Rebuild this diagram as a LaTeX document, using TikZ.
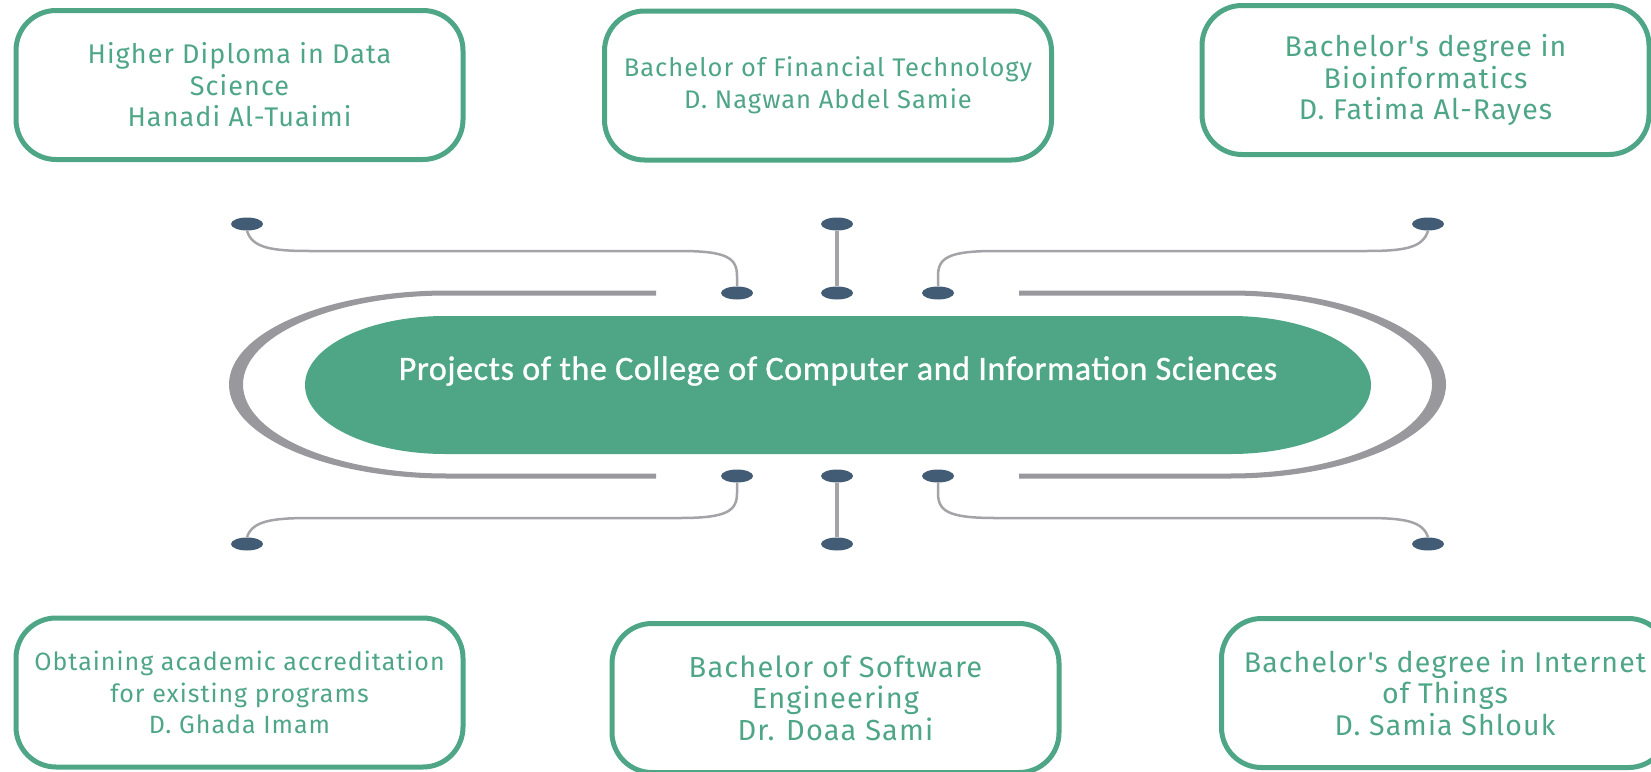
\documentclass[tikz,border=0pt]{standalone}
\usepackage{fontspec}
\newfontfamily\progfont{Fira Sans}[LetterSpace=4]
\newfontfamily\hubfont{Carlito}[LetterSpace=1.8,FakeBold=1]
\usetikzlibrary{shapes.geometric}
\definecolor{progGreen}{RGB}{78,166,134}
\definecolor{pinBlue}{RGB}{67,92,117}
\definecolor{railGray}{RGB}{152,152,157}
\definecolor{wireGray}{RGB}{163,163,168}

\begin{document}
\begin{tikzpicture}[x=1pt,y=-1pt,
  prog/.style={draw=progGreen, line width=5pt, rounded corners=40pt,
    minimum width=447pt, minimum height=149pt, text=progGreen, align=center,
    font=\progfont\fontsize{#1}{31.5}\selectfont},
  pin/.style={ellipse, fill=pinBlue, minimum width=32pt, minimum height=13pt, inner sep=0pt},
  wire/.style={draw=wireGray, line width=2.5pt},
  rail/.style={fill=railGray}]
  \useasboundingbox (0,0) rectangle (1651,771);

  \fill[progGreen] (445,316) -- (1231,316) arc[start angle=-90,end angle=90,x radius=140,y radius=69]
    -- (445,454) arc[start angle=90,end angle=270,x radius=140,y radius=69] -- cycle;
  \node[text=white, font=\hubfont\fontsize{34}{40}\selectfont] (hub) at (838,371)
    {Projects of the College of Computer and Information Sciences};

  \fill[rail] (656,290.5) -- (447,290.5) arc[start angle=-90,end angle=-270,x radius=218,y radius=94]
    -- (656,478.5) -- (656,473.5) -- (447,473.5)
    arc[start angle=90,end angle=270,x radius=204,y radius=89] -- (656,295.5) -- cycle;
  \fill[rail] (1019,290.5) -- (1230,290.5) arc[start angle=-90,end angle=90,x radius=216,y radius=94]
    -- (1019,478.5) -- (1019,473.5) -- (1230,473.5)
    arc[start angle=90,end angle=-90,x radius=202,y radius=89] -- (1019,295.5) -- cycle;

  \node[pin] (p1) at (247,224) {};
  \node[pin] (p2) at (837,224) {};
  \node[pin] (p3) at (1428,224) {};
  \node[pin] (p4) at (737,293) {};
  \node[pin] (p5) at (837,293) {};
  \node[pin] (p6) at (938,293) {};
  \node[pin] (p7) at (737,476) {};
  \node[pin] (p8) at (837,476) {};
  \node[pin] (p9) at (938,476) {};
  \node[pin] (p10) at (247,544) {};
  \node[pin] (p11) at (837,544) {};
  \node[pin] (p12) at (1428,544) {};

  \draw[wire] (p1.south) .. controls (252,248) and (272,251) .. (310,251) -- (680,251)
    .. controls (727,251) and (737,258) .. (737,276) -- (p4.north);
  \draw[wire, line width=4pt] (p2) -- (p5);
  \draw[wire] (p6.north) -- (938,276) .. controls (938,258) and (948,251) .. (995,251)
    -- (1366,251) .. controls (1404,251) and (1423,248) .. (p3.south);
  \draw[wire] (p7.south) -- (737,493) .. controls (737,511) and (727,518) .. (680,518)
    -- (310,518) .. controls (272,518) and (252,521) .. (p10.north);
  \draw[wire, line width=4pt] (p8) -- (p11);
  \draw[wire] (p9.south) -- (938,493) .. controls (938,511) and (948,518) .. (995,518)
    -- (1366,518) .. controls (1404,518) and (1423,521) .. (p12.north);

  \node[prog=27] (dataSci) at (239.5,85) {Higher Diploma in Data\\Science\\Hanadi Al-Tuaimi};
  \node[prog=25.5] (finTech) at (828,85.5) {Bachelor of Financial Technology\\D. Nagwan Abdel Samie};
  \node[prog=28.5] (bioInf) at (1425.5,80) {Bachelor's degree in\\Bioinformatics\\D. Fatima Al-Rayes};
  \node[prog=25] (accred) at (239.5,692.5) {Obtaining academic accreditation\\for existing programs\\D. Ghada Imam};
  \node[prog=29] (softEng) at (835.5,698) {Bachelor of Software\\Engineering\\Dr. Doaa Sami};
  \node[prog=28.5] (iot) at (1445,693) {Bachelor's degree in Internet\\of Things\\D. Samia Shlouk};
\end{tikzpicture}
\end{document}
